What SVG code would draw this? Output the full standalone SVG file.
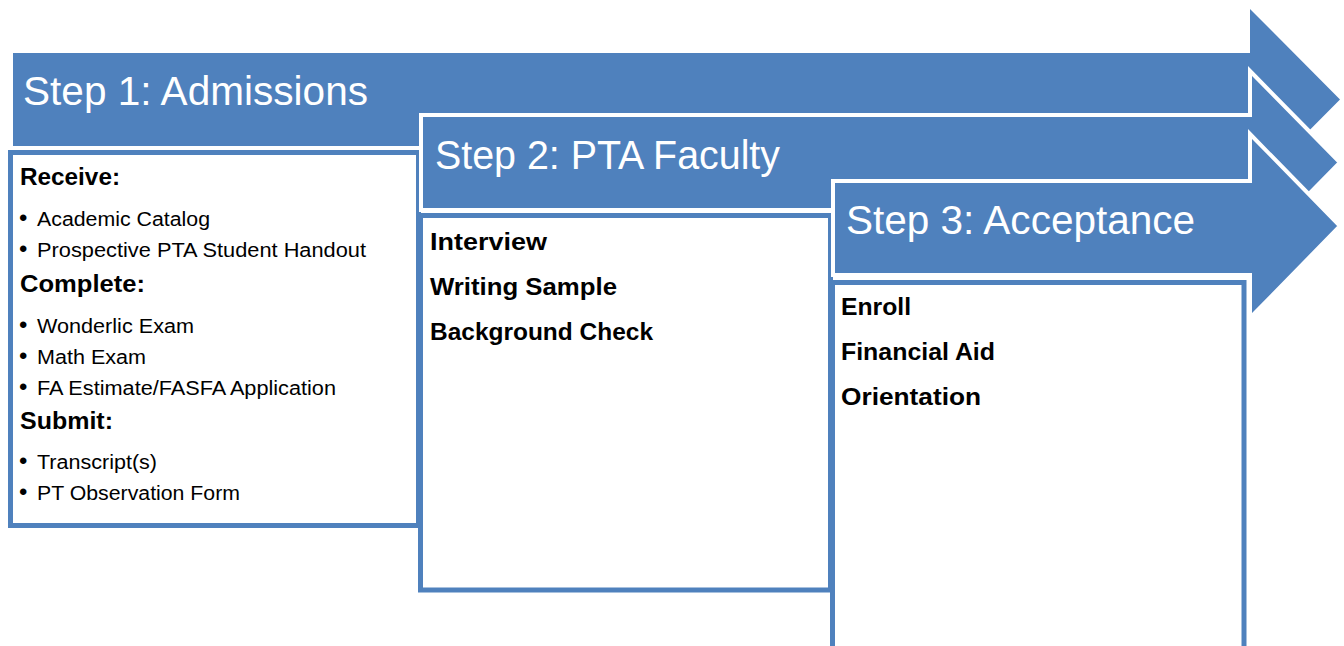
<svg xmlns="http://www.w3.org/2000/svg" width="1344" height="646" viewBox="0 0 1344 646">
<style>
.arrow{fill:#4F81BD;stroke:#FFFFFF;stroke-width:4;stroke-linejoin:miter}
.box{fill:#FFFFFF;stroke:#4F81BD;stroke-width:5}
.hd{font-family:"Liberation Sans",Arial,sans-serif;font-size:40px;fill:#FFFFFF}
.b{font-family:"Liberation Sans",Arial,sans-serif;font-size:23px;font-weight:bold;fill:#000000}
.r{font-family:"Liberation Sans",Arial,sans-serif;font-size:20px;fill:#000000}
.bu{font-family:"Liberation Sans",Arial,sans-serif;font-size:24px;fill:#000000}
</style>
<rect width="1344" height="646" fill="#FFFFFF"/>
<g id="step1">
<polygon class="arrow" points="13,53 1250,53 1250,9 1340,99.5 1250,190 1250,146 13,146" style="stroke:none"/>
<text class="hd" x="23" y="105" textLength="345" lengthAdjust="spacingAndGlyphs">Step 1: Admissions</text>
</g>
<g id="box1">
<rect class="box" x="10.5" y="152.5" width="408" height="373"/>
<text class="b" x="20" y="185" textLength="100" lengthAdjust="spacingAndGlyphs">Receive:</text>
<text class="bu" x="19" y="226">•</text><text class="r" x="37" y="226" textLength="173" lengthAdjust="spacingAndGlyphs">Academic Catalog</text>
<text class="bu" x="19" y="257">•</text><text class="r" x="37" y="257" textLength="329" lengthAdjust="spacingAndGlyphs">Prospective PTA Student Handout</text>
<text class="b" x="20" y="292" textLength="125" lengthAdjust="spacingAndGlyphs">Complete:</text>
<text class="bu" x="19" y="333">•</text><text class="r" x="37" y="333" textLength="157" lengthAdjust="spacingAndGlyphs">Wonderlic Exam</text>
<text class="bu" x="19" y="364">•</text><text class="r" x="37" y="364" textLength="109" lengthAdjust="spacingAndGlyphs">Math Exam</text>
<text class="bu" x="19" y="395">•</text><text class="r" x="37" y="395" textLength="299" lengthAdjust="spacingAndGlyphs">FA Estimate/FASFA Application</text>
<text class="b" x="20" y="429" textLength="93" lengthAdjust="spacingAndGlyphs">Submit:</text>
<text class="bu" x="19" y="469">•</text><text class="r" x="37" y="469" textLength="120" lengthAdjust="spacingAndGlyphs">Transcript(s)</text>
<text class="bu" x="19" y="500">•</text><text class="r" x="37" y="500" textLength="203" lengthAdjust="spacingAndGlyphs">PT Observation Form</text>
</g>
<g id="step2">
<polygon class="arrow" points="421,115 1250,115 1250,71 1340,162.5 1250,254 1250,210 421,210"/>
<text class="hd" x="435" y="169" textLength="345" lengthAdjust="spacingAndGlyphs">Step 2: PTA Faculty</text>
</g>
<g id="box2">
<rect class="box" x="420.5" y="215.5" width="410" height="374.5"/>
<text class="b" x="430" y="250" textLength="117" lengthAdjust="spacingAndGlyphs">Interview</text>
<text class="b" x="430" y="295" textLength="187" lengthAdjust="spacingAndGlyphs">Writing Sample</text>
<text class="b" x="430" y="340" textLength="223" lengthAdjust="spacingAndGlyphs">Background Check</text>
</g>
<g id="step3">
<polygon class="arrow" points="833,181 1250,181 1250,134 1340,226 1250,318 1250,275 833,275"/>
<text class="hd" x="846" y="234" textLength="349" lengthAdjust="spacingAndGlyphs">Step 3: Acceptance</text>
</g>
<g id="box3">
<rect class="box" x="832.5" y="282.5" width="411.5" height="380"/>
<text class="b" x="841" y="315" textLength="70" lengthAdjust="spacingAndGlyphs">Enroll</text>
<text class="b" x="841" y="360" textLength="154" lengthAdjust="spacingAndGlyphs">Financial Aid</text>
<text class="b" x="841" y="405" textLength="140" lengthAdjust="spacingAndGlyphs">Orientation</text>
</g>
<g id="connectors"></g>
</svg>
